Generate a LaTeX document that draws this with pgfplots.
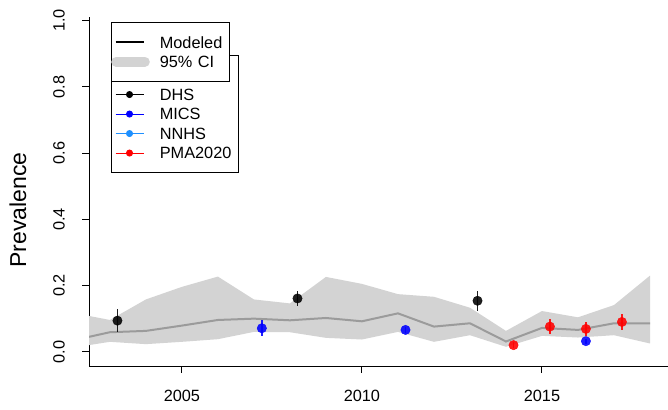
\documentclass[border=0pt]{standalone}
\usepackage{pgfplots}
\pgfplotsset{compat=1.18}
\usepackage{fontspec}
\setmainfont{Liberation Sans}
\definecolor{band}{RGB}{211,211,211}
\definecolor{mline}{RGB}{155,155,155}
\definecolor{dhs}{RGB}{0,0,0}
\definecolor{mics}{RGB}{0,0,255}
\definecolor{nnhs}{RGB}{30,144,255}
\definecolor{pma}{RGB}{255,0,0}
\newcommand{\tfont}{\fontsize{16.3bp}{19.5bp}\selectfont}
\begin{document}
\begin{tikzpicture}
\path[use as bounding box] (0bp,0bp) rectangle (668bp,410bp);
\pgfplotsset{
  base/.style={scale only axis, width=579bp, height=349bp, at={(89bp,44bp)}, anchor=south west,
    xmin=2002.42, xmax=2018.5, ymin=-0.043, ymax=1.011},
  srcimg/.style={legend image code/.code={
      \path[draw=none,fill=none] (0bp,-5bp) rectangle (38.6bp,5bp);
      \draw[line width=1bp,##1] (4.3bp,0bp) -- (32.3bp,0bp);
      \fill[##1] (18.3bp,0bp) circle (3bp);}},
  legbase/.style={legend cell align=left, legend style={draw=black, fill=white, line width=1bp,
      inner xsep=0pt, inner ysep=9.75bp, column sep=10bp, row sep=0pt,
      nodes={inner sep=0pt, text height=15.55bp, text depth=3.95bp, font=\tfont}}}
}
\begin{axis}[base,
  axis x line*=bottom, axis y line*=left,
  axis line style={line width=1bp,-, black},
  tick align=outside, major tick length=7bp,
  tick style={line width=1bp, black},
  xtick={2005,2010,2015}, xticklabels={2005,2010,2015},
  ytick={0,0.2,0.4,0.6,0.8,1.0}, yticklabels={0.0,0.2,0.4,0.6,0.8,1.0},
  xticklabel style={font=\tfont, anchor=base, inner sep=0pt},
  yticklabel style={font=\tfont, rotate=90, anchor=base, inner sep=0pt},
  xticklabel shift=28bp, yticklabel shift=17.5bp,
  ylabel={Prevalence},
  ylabel style={font=\fontsize{23bp}{27bp}\selectfont, at={(axis description cs:-0.1085,0.447)}, anchor=base, rotate=0, inner sep=0pt},
  legbase,
  legend style={at={(axis description cs:0.0375,0.891)}, anchor=north west,
      nodes={text width=78.4bp}},
  clip=true
]
% 95% CI band
\addplot[fill=band, draw=none, forget plot] coordinates {
 (2002,0.117) (2003,0.096) (2004,0.158) (2005,0.196) (2006,0.227) (2007,0.158)
 (2008,0.146) (2009,0.226) (2010,0.205) (2011,0.174) (2012,0.166) (2013,0.133)
 (2014,0.063) (2015,0.123) (2016,0.104) (2017,0.141) (2018,0.230)
 (2018,0.025) (2017,0.050) (2016,0.043) (2015,0.048) (2014,0.015) (2013,0.050)
 (2012,0.030) (2011,0.060) (2010,0.037) (2009,0.042) (2008,0.059) (2007,0.060)
 (2006,0.038) (2005,0.030) (2004,0.023) (2003,0.030) (2002,0.013)
} -- cycle;
% modeled
\addplot[mline, line width=2bp, forget plot] coordinates {
 (2002,0.035) (2003,0.059) (2004,0.063) (2005,0.079) (2006,0.096) (2007,0.100)
 (2008,0.095) (2009,0.102) (2010,0.092) (2011,0.116) (2012,0.076) (2013,0.086)
 (2014,0.031) (2015,0.072) (2016,0.066) (2017,0.086) (2018,0.086)
};
% DHS
\addplot[only marks, mark=*, mark size=4.7bp, color=dhs, opacity=0.88, forget plot,
  error bars/.cd, y dir=both, y explicit, error mark=none,
  error bar style={line width=1.5bp, color=dhs}] coordinates {
 (2003.21,0.094) +- (0,0.034)
 (2008.21,0.161) +- (0,0.024)
 (2013.21,0.154) +- (0,0.030)
};
% MICS
\addplot[only marks, mark=*, mark size=4.7bp, color=mics, opacity=0.88, forget plot,
  error bars/.cd, y dir=both, y explicit, error mark=none,
  error bar style={line width=1.5bp, color=mics}] coordinates {
 (2007.22,0.071) +- (0,0.024)
 (2011.21,0.066) +- (0,0.010)
 (2016.22,0.032) +- (0,0.008)
};
% PMA2020
\addplot[only marks, mark=*, mark size=4.7bp, color=pma, opacity=0.88, forget plot,
  error bars/.cd, y dir=both, y explicit, error mark=none,
  error bar style={line width=1.5bp, color=pma}] coordinates {
 (2014.21,0.020) +- (0,0.008)
 (2015.22,0.076) +- (0,0.022)
 (2016.22,0.069) +- (0,0.022)
 (2017.22,0.090) +- (0,0.023)
};
\addlegendimage{empty legend}\addlegendentry{}
\addlegendimage{srcimg, dhs}\addlegendentry{DHS}
\addlegendimage{srcimg, mics}\addlegendentry{MICS}
\addlegendimage{srcimg, nnhs}\addlegendentry{NNHS}
\addlegendimage{srcimg, pma}\addlegendentry{PMA2020}
\end{axis}
\begin{axis}[base, hide axis, legbase,
  legend style={at={(axis description cs:0.0375,0.985)}, anchor=north west,
      nodes={text width=70bp}}]
\addlegendimage{legend image code/.code={
   \path[draw=none,fill=none] (0bp,-5bp) rectangle (38.6bp,5bp);
   \draw[line width=1.5bp, black] (4.3bp,0bp) -- (32.3bp,0bp);}}
\addlegendentry{Modeled}
\addlegendimage{legend image code/.code={
   \path[draw=none,fill=none] (0bp,-5bp) rectangle (38.6bp,5bp);
   \draw[line width=10bp, band, line cap=round] (5bp,0bp) -- (33.6bp,0bp);}}
\addlegendentry{95\% CI}
\end{axis}
\end{tikzpicture}
\end{document}
